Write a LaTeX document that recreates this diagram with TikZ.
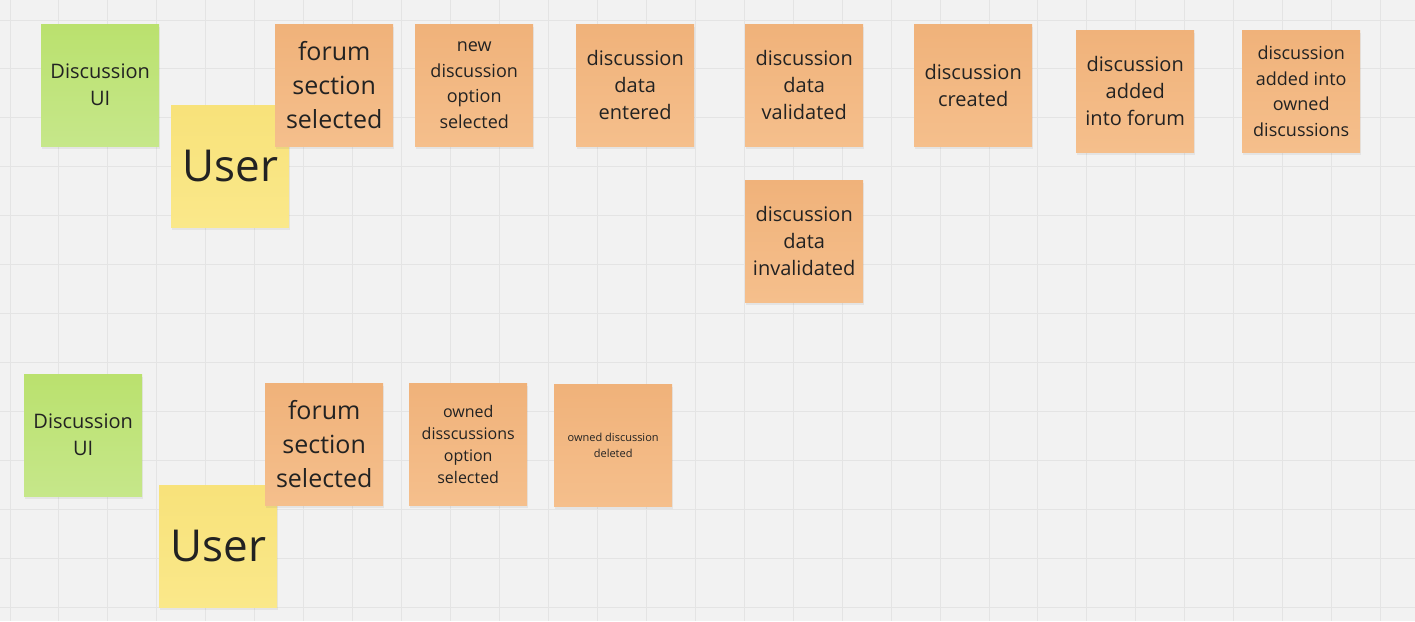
\documentclass[tikz,border=0pt]{standalone}
\usepackage{fontspec}
\setmainfont{Open Sans}
\usetikzlibrary{shadows}
\definecolor{bg}{HTML}{F2F2F2}
\definecolor{gridc}{HTML}{E4E4E4}
\definecolor{greenT}{HTML}{BAE16E}
\definecolor{greenB}{HTML}{C6E78A}
\definecolor{yellowT}{HTML}{F8E27A}
\definecolor{yellowB}{HTML}{FAE88A}
\definecolor{orangeT}{HTML}{F0B27A}
\definecolor{orangeB}{HTML}{F5BF8C}
\definecolor{inkc}{HTML}{222222}
\tikzset{
  sticky/.style={anchor=north west, minimum width=118pt, minimum height=122pt,
    inner sep=2pt, align=center, text=inkc,
    drop shadow={shadow xshift=1pt, shadow yshift=-3pt, opacity=0.12}},
  greensticky/.style={sticky, top color=greenT, bottom color=greenB},
  yellowsticky/.style={sticky, top color=yellowT, bottom color=yellowB},
  orangesticky/.style={sticky, top color=orangeT, bottom color=orangeB},
  gridline/.style={draw=gridc, line width=1pt},
  fa/.style={font=\fontsize{20}{27}\selectfont},
  fb/.style={font=\fontsize{25}{34}\selectfont},
  fc/.style={font=\fontsize{18}{25.5}\selectfont},
  fd/.style={font=\fontsize{16}{22}\selectfont},
  fe/.style={font=\fontsize{11}{16}\selectfont},
  fuser/.style={font=\fontsize{44}{50}\selectfont},
}
\begin{document}
\begin{tikzpicture}[x=1pt,y=-1pt]
\useasboundingbox (0,0) rectangle (1415,621);
\fill[bg] (0,0) rectangle (1415,621);
\foreach \k in {0,...,28} {\draw[gridline] (10+48.95*\k,0) -- (10+48.95*\k,621);}
\foreach \k in {0,...,12} {\draw[gridline] (0,20+48.95*\k) -- (1415,20+48.95*\k);}

% top row
\node[greensticky, fa] (ui1) at (41,24) {Discussion\\UI};
\node[yellowsticky, fuser] (user1) at (171,105) {User};
\node[orangesticky, fb] (fs1) at (275,24) {forum\\section\\selected};
\node[orangesticky, fc] (nd) at (415,24) {new\\discussion\\option\\selected};
\node[orangesticky, fa] (de) at (576,24) {discussion\\data\\entered};
\node[orangesticky, fa] (dv) at (745,24) {discussion\\data\\validated};
\node[orangesticky, fa] (di) at (745,180) {discussion\\data\\invalidated};
\node[orangesticky, fa] (dc) at (914,24) {discussion\\created};
\node[orangesticky, fa] (daf) at (1076,30) {discussion\\added\\into forum};
\node[orangesticky, fc] (dao) at (1242,30) {discussion\\added into\\owned\\discussions};

% bottom row
\node[greensticky, fa] (ui2) at (24,374) {Discussion\\UI};
\node[yellowsticky, fuser] (user2) at (159,485) {User};
\node[orangesticky, fb] (fs2) at (265,383) {forum\\section\\selected};
\node[orangesticky, fd] (od) at (409,383) {owned\\disscussions\\option\\selected};
\node[orangesticky, fe] (odd) at (554,384) {owned discussion\\deleted};
\end{tikzpicture}
\end{document}
